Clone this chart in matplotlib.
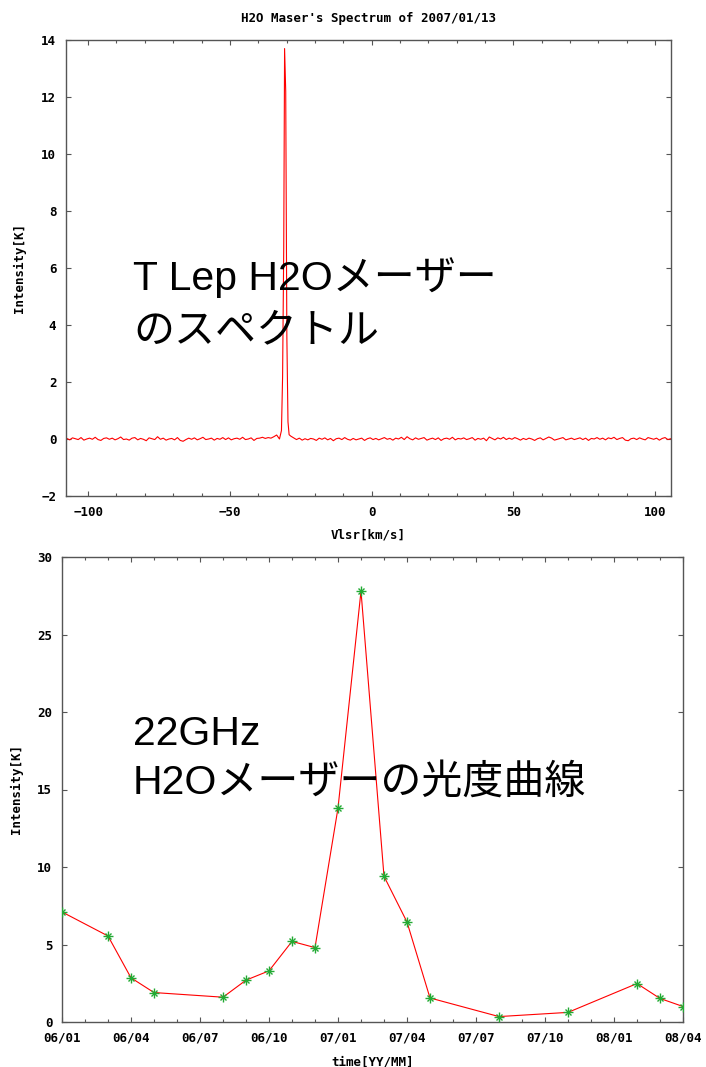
import numpy as np
import matplotlib
matplotlib.use("Agg")
from matplotlib import pyplot as plt
from matplotlib.font_manager import FontProperties
from matplotlib.ticker import MultipleLocator, FixedLocator

# spectrum baseline, 1 km/s channels starting at -107.5 km/s (hundredths of K)
base_start = -107.5
base_cK = [2, -3, 4, 1, -2, 5, -4, 0, 3, -1,
           6, -2, -5, 2, 4, -1, 3, -3, 1, 7,
           -2, 0, -4, 3, 5, -3, 2, -1, -6, 4,
           1, -2, 8, -1, 3, -4, 0, 2, -3, 5,
           -5, -8, -2, 3, -1, 4, -3, 1, 6, -2,
           0, 3, -4, 2, -1, 5, -2, 4, -3, 1,
           3, -1, 6, -2, 0, 4, -5, 2, 3, 6,
           2, 5, 3, 8, 14, 0, 0, 0, 0, 10,
           4, -2, 3, -4, 1, -3, 2, 0, -5, 3,
           -1, 4, -3, 2, -6, 1, 3, -2, 5, -1,
           -4, 2, -3, 0, 3, -5, 1, 4, -2, 2,
           -3, 1, 5, -1, 2, -4, 3, 0, 6, -2,
           8, 1, -3, 4, -1, 2, 5, -4, 0, 3,
           -2, 4, -5, 1, 3, -1, 6, -3, 2, 0,
           4, -2, 1, 5, -4, 2, -1, 3, -6, 7,
           2, -3, 4, 0, 6, -2, 3, -1, 5, 1,
           -4, 2, -2, 3, 0, -5, 1, 4, -3, 2,
           7, 3, -4, -1, 2, 5, -3, 0, 3, -2,
           1, 4, -2, 3, -5, 2, 0, 5, -1, 3,
           -3, 4, 1, 6, -2, 2, 5, -4, -6, 1,
           3, -2, 4, 0, -3, 5, 2, -1, 3, -4,
           2, 5, -2, 1]

# maser line channels
peak_vel = [-31.8, -31.4, -31.0, -30.7, -30.3, -29.9, -29.5, -29.1]
peak_int = [0.30, 2.2, 6.7, 13.7, 12.2, 3.6, 0.6, 0.15]

# light curve: observation month (YY/MM) and peak intensity [K]
obs_month = ["06/01", "06/03", "06/04", "06/05", "06/08", "06/09", "06/10",
             "06/11", "06/12", "07/01", "07/02", "07/03", "07/04", "07/05",
             "07/08", "07/11", "08/02", "08/03", "08/04"]
obs_int = [7.1, 5.55, 2.85, 1.9, 1.6, 2.7, 3.3, 5.2, 4.8, 13.8, 27.8,
           9.4, 6.45, 1.55, 0.35, 0.62, 2.48, 1.52, 1.0]
month_labels = ["06/01", "06/04", "06/07", "06/10", "07/01", "07/04",
                "07/07", "07/10", "08/01", "08/04"]

mono = {"family": "DejaVu Sans Mono", "weight": "bold", "size": 9}
big = ["Liberation Sans", "Noto Sans CJK JP"]
W, H = 706, 1067

def months_since_start(lbl):
    yy, mm = lbl.split("/")
    return (int(yy) - 6) * 12 + int(mm) - 1

def style_axes(ax):
    ax.tick_params(which="both", direction="in", top=True, right=True,
                   width=0.8, color="#555555", pad=7)
    ax.tick_params(which="major", length=3.5)
    ax.tick_params(which="minor", length=2)
    for lbl in ax.get_xticklabels() + ax.get_yticklabels():
        lbl.set_fontproperties(FontProperties(**mono))
    for s in ax.spines.values():
        s.set_color("#555555")
        s.set_linewidth(1.0)

def big_text(x_px, baseline_px, s):
    fig.text(x_px / W, 1 - baseline_px / H, s, family=big, fontsize=29.5,
             ha="left", va="baseline", color="black")

fig = plt.figure(figsize=(W / 100, H / 100), dpi=100)

# --- spectrum ---
vel = base_start + np.arange(len(base_cK))
inten = np.array(base_cK) / 100.0
keep = (vel < -32.2) | (vel > -28.9)
v_all = np.concatenate([vel[keep], peak_vel])
i_all = np.concatenate([inten[keep], peak_int])
order = np.argsort(v_all)

ax1 = fig.add_axes([66 / W, 1 - 496 / H, 605 / W, 456 / H])
ax1.plot(v_all[order], i_all[order], color="#ff0000", lw=0.8)
ax1.set_xlim(-107.8, 105.6)
ax1.set_ylim(-2, 14)
ax1.xaxis.set_major_locator(MultipleLocator(50))
ax1.xaxis.set_minor_locator(MultipleLocator(10))
ax1.yaxis.set_major_locator(MultipleLocator(2))
style_axes(ax1)
ax1.set_xlabel("Vlsr[km/s]", fontdict=mono, labelpad=7)
ax1.set_ylabel("Intensity[K]", fontdict=mono, labelpad=11)
ax1.set_title("H2O Maser's Spectrum of 2007/01/13", fontdict=mono, pad=13)
big_text(133, 290, "T Lep H2Oメーザー")
big_text(133, 342, "のスペクトル")

# --- light curve ---
t = np.array([months_since_start(m) for m in obs_month])
ax2 = fig.add_axes([62 / W, 1 - 1022 / H, 621 / W, 465 / H])
ax2.plot(t, obs_int, color="#ff0000", lw=0.8, zorder=2)
ax2.plot(t, obs_int, ls="none", marker="+", ms=7, mew=1.0, color="#22aa33", zorder=3)
ax2.plot(t, obs_int, ls="none", marker="x", ms=5, mew=1.0, color="#22aa33", zorder=3)
ax2.set_xlim(0, 27)
ax2.set_ylim(0, 30)
ax2.xaxis.set_major_locator(FixedLocator([months_since_start(m) for m in month_labels]))
ax2.set_xticklabels(month_labels)
ax2.xaxis.set_minor_locator(MultipleLocator(1))
ax2.yaxis.set_major_locator(MultipleLocator(5))
style_axes(ax2)
ax2.set_xlabel("time[YY/MM]", fontdict=mono, labelpad=8)
ax2.set_ylabel("Intensity[K]", fontdict=mono, labelpad=10)
big_text(133, 745, "22GHz")
big_text(133, 794, "H2Oメーザーの光度曲線")

fig.savefig("out.png", dpi=100)
